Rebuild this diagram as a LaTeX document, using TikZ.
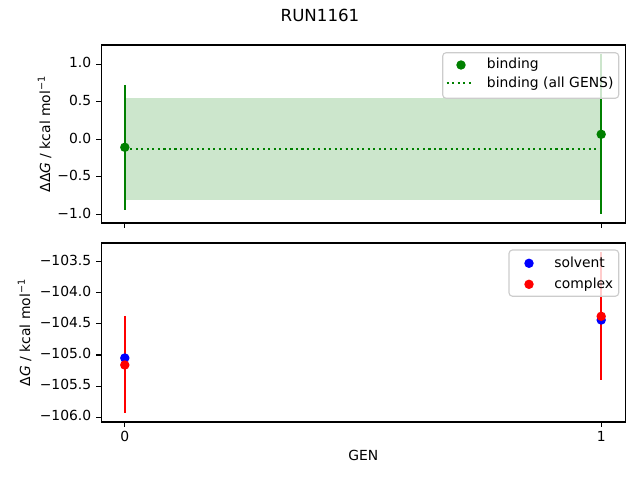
\documentclass[tikz,border=0pt]{standalone}
\usepackage{fontspec}
\setmainfont{DejaVu Sans}
\definecolor{mgreen}{RGB}{0,128,0}
\definecolor{mband}{RGB}{204,230,204}
\definecolor{mblue}{RGB}{0,0,255}
\definecolor{mred}{RGB}{255,0,0}
\definecolor{mframe}{RGB}{204,204,204}
\begin{document}
\begin{tikzpicture}[x=0.72bp,y=-0.72bp,
  ax/.style={line width=0.8bp, black},
  tickmark/.style={line width=0.8bp, black},
  lab/.style={font=\fontsize{10bp}{12bp}\selectfont, inner sep=0pt},
  ytl/.style={lab, anchor=mid east},
  xtl/.style={lab, anchor=base},
  ebar/.style={line width=1.5bp},
  mk/.style={radius=3.4bp},
  dotline/.style={line width=1.5bp, dash pattern=on 1.5bp off 2.475bp},
  legbox/.style={draw=mframe, fill=white, fill opacity=0.8, rounded corners=2.5bp, line width=0.8bp}]
\useasboundingbox (0,0) rectangle (640,480);

% title
\node[font=\fontsize{12bp}{14bp}\selectfont, inner sep=0pt, anchor=base] (title) at (320,21.7) {RUN1161};

% ---------- top axes ----------
\fill[mband] (124.8,98.3) rectangle (601.2,200.3);
\draw[mgreen, dotline] (124.8,148.7) -- (601.2,148.7);
\draw[mgreen, ebar] (124.8,85) -- (124.8,210);
\draw[mgreen, ebar] (601.2,54) -- (601.2,214);
\fill[mgreen] (124.8,147.3) circle[mk];
\fill[mgreen] (601.2,134.3) circle[mk];
\draw[ax] (101.3,45) rectangle (625.3,223);
\foreach \yy/\tl in {64.1/1.0, 101.7/0.5, 139.3/0.0, 176.9/−0.5, 214.5/−1.0}{
  \draw[tickmark] (101.3,\yy) -- (96.4,\yy);
  \node[ytl] at (91.5,\yy) {\tl};
}
\foreach \xx in {124.8,601.2}{
  \draw[tickmark] (\xx,223) -- (\xx,227.9);
}
\node[lab, rotate=90, anchor=base] (ylabtop) at (50,134) {ΔΔ\textit{G} / kcal mol\textsuperscript{−1}};

% legend top
\draw[legbox] (442.7,52.7) rectangle (618.7,98.3);
\fill[mgreen] (461,65) circle[mk];
\draw[mgreen, dotline] (446.7,83.3) -- (473.3,83.3);
\node[lab, anchor=base west] (legb1) at (486.7,69) {binding};
\node[lab, anchor=base west] (legb2) at (486.7,87.3) {binding (all GENS)};

% ---------- bottom axes ----------
\draw[mred, ebar] (124.8,316) -- (124.8,413.3);
\draw[mred, ebar] (601.2,252.4) -- (601.2,380.3);
\fill[mblue] (124.8,358) circle[mk];
\fill[mblue] (601.2,320) circle[mk];
\fill[mred] (124.8,365) circle[mk];
\fill[mred] (601.2,316.3) circle[mk];
\draw[ax] (101.3,243) rectangle (625.3,422);
\foreach \yy/\tl in {261.7/−103.5, 292.8/−104.0, 323.9/−104.5, 355/−105.0, 386.1/−105.5, 417.2/−106.0}{
  \draw[tickmark] (101.3,\yy) -- (96.4,\yy);
  \node[ytl] at (91.5,\yy) {\tl};
}
\foreach \xx/\tl in {124.8/0, 601.2/1}{
  \draw[tickmark] (\xx,422) -- (\xx,426.9);
  \node[xtl] at (\xx,441.7) {\tl};
}
\node[lab, rotate=90, anchor=base] (ylabbot) at (30,332.5) {Δ\textit{G} / kcal mol\textsuperscript{−1}};
\node[lab, anchor=base] (xlab) at (363.3,460.7) {GEN};

% legend bottom
\draw[legbox] (509,250) rectangle (618.7,296.3);
\fill[mblue] (529,263.3) circle[mk];
\fill[mred] (529,284.3) circle[mk];
\node[lab, anchor=base west] (legs1) at (554,267.4) {solvent};
\node[lab, anchor=base west] (legs2) at (554,288.4) {complex};
\end{tikzpicture}
\end{document}
